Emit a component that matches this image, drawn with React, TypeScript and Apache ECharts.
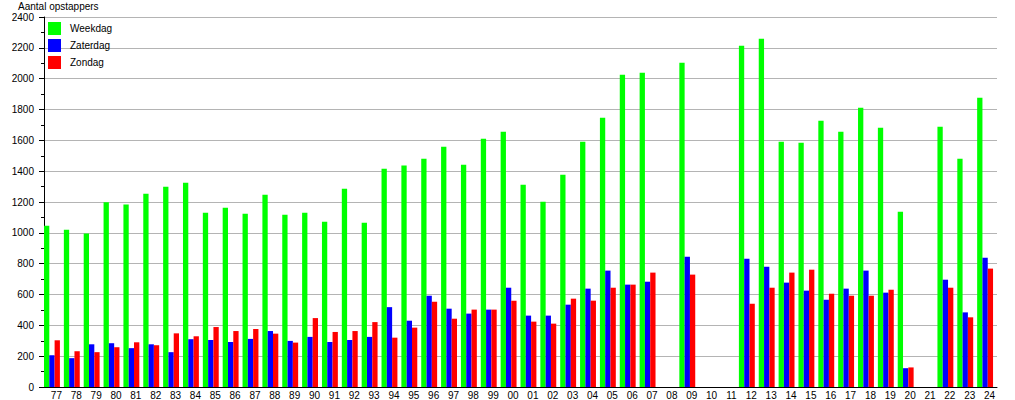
import React, { useEffect, useRef } from "react";
import * as echarts from "echarts";

const years = [
  "77", "78", "79", "80", "81", "82", "83", "84", "85", "86", "87", "88", "89", "90", "91", "92",
  "93", "94", "95", "96", "97", "98", "99", "00", "01", "02", "03", "04", "05", "06", "07", "08",
  "09", "10", "11", "12", "13", "14", "15", "16", "17", "18", "19", "20", "21", "22", "23", "24",
];

const weekdag = [
  1046, 1020, 995, 1198, 1183, 1254, 1299, 1325, 1131, 1163, 1124, 1247, 1118, 1131, 1072, 1286,
  1066, 1416, 1436, 1481, 1559, 1442, 1611, 1656, 1312, 1202, 1377, 1591, 1747, 2026, 2039, null,
  2104, null, null, 2214, 2259, 1591, 1585, 1727, 1656, 1812, 1682, 1137, null, 1688, 1481, 1877,
];

const zaterdag = [
  206, 187, 277, 284, 252, 277, 226, 310, 305, 292, 312, 363, 299, 325, 292, 305,
  325, 518, 430, 592, 508, 476, 502, 644, 463, 463, 534, 638, 755, 664, 683, null,
  845, null, null, 832, 780, 677, 625, 566, 638, 755, 612, 122, null, 696, 484, 839,
];

const zondag = [
  303, 232, 226, 258, 290, 271, 348, 329, 389, 363, 376, 346, 288, 447, 357, 363,
  421, 320, 385, 553, 443, 502, 502, 560, 424, 411, 573, 560, 644, 664, 742, null,
  729, null, null, 540, 644, 742, 761, 605, 592, 592, 631, 127, null, 644, 452, 768,
];

// empty spacer series so the three bars sit at the left of each category band
const spacer: (number | null)[] = years.map(() => null);

const seriesNames = ["Weekdag", "Zaterdag", "Zondag"];
const seriesColors = ["#00ff00", "#0000ff", "#ff0000"];

export default function App() {
  const ref = useRef<HTMLDivElement>(null);

  useEffect(() => {
    document.body.style.margin = "0";
    if (!ref.current) return;
    const chart = echarts.init(ref.current, null, { renderer: "svg" });
    const font = "'Liberation Sans', Arial, sans-serif";
    const barW = 5.3;
    chart.setOption({
      animation: false,
      backgroundColor: "#ffffff",
      textStyle: { fontFamily: font },
      title: {
        text: "Aantal opstappers",
        left: 18,
        top: 1,
        padding: 0,
        textStyle: { fontSize: 10, fontWeight: "normal", color: "#000", fontFamily: font },
      },
      legend: {
        data: seriesNames,
        orient: "vertical",
        left: 48,
        top: 22,
        padding: 0,
        itemWidth: 13,
        itemHeight: 13,
        itemGap: 4,
        icon: "rect",
        textStyle: { fontSize: 10, color: "#000", fontFamily: font, padding: [0, 0, 0, 4] },
      },
      grid: { left: 44, top: 17, width: 953, height: 370, containLabel: false },
      xAxis: {
        type: "category",
        data: years,
        boundaryGap: true,
        axisLine: { show: true, lineStyle: { color: "#000", width: 1 } },
        axisTick: { show: false },
        axisLabel: {
          interval: 0,
          fontSize: 10,
          color: "#000",
          margin: 3,
          padding: [0, 0, 0, 5],
          fontFamily: font,
        },
        splitLine: { show: false },
      },
      yAxis: {
        type: "value",
        min: 0,
        max: 2400,
        interval: 200,
        axisLine: { show: true, lineStyle: { color: "#000", width: 1 } },
        axisTick: { show: true, length: 5, lineStyle: { color: "#000" } },
        minorTick: { show: true, splitNumber: 2, length: 3, lineStyle: { color: "#000" } },
        splitLine: { show: true, lineStyle: { color: "#b4b4b4", width: 1 } },
        axisLabel: {
          fontSize: 10,
          color: "#000",
          margin: 10,
          fontFamily: font,
          formatter: (v: number) => String(v),
        },
      },
      series: [
        { name: seriesNames[0], type: "bar", data: weekdag, barWidth: barW, itemStyle: { color: seriesColors[0] } },
        { name: seriesNames[1], type: "bar", data: zaterdag, barWidth: barW, itemStyle: { color: seriesColors[1] } },
        { name: seriesNames[2], type: "bar", data: zondag, barWidth: barW, itemStyle: { color: seriesColors[2] } },
        { name: "_spacer", type: "bar", data: spacer, barWidth: 3.95, barGap: "0%", itemStyle: { color: "transparent" } },
      ],
    });
    return () => chart.dispose();
  }, []);

  return (
    <div
      ref={ref}
      style={{ position: "absolute", left: 0, top: 0, width: 1015, height: 400, background: "#fff" }}
    />
  );
}
